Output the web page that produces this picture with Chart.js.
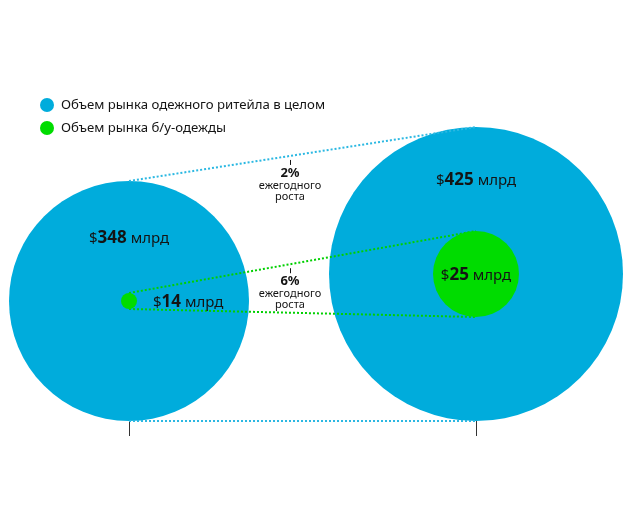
<!DOCTYPE html>
<html>
<head>
<meta charset="utf-8">
<script src="https://cdn.jsdelivr.net/npm/chart.js@4"></script>
<style>
  html, body { margin: 0; padding: 0; background: #fff; }
  #wrap { width: 630px; height: 517px; position: relative; }
</style>
</head>
<body>
<div id="wrap"><canvas id="chart"></canvas></div>
<script>
const seriesNames = ["Объем рынка одежного ритейла в целом", "Объем рынка б/у-одежды"];
const totalMarket = [348, 425];   // $ bn, whole apparel retail
const resaleMarket = [14, 25];    // $ bn, second-hand
const growthRates = [2, 6];       // % per year: total, resale
const unitLabel = "млрд";

// bubble sizes in px (the resale circles are not to scale)
const totalRadius = [120, 147];
const resaleRadius = [8, 43];

const blue = "#00ACDC";
const green = "#00DC00";
const blueDots = "#2BB8E2";
const greenDots = "#00D000";
const ink = "#141414";
const font = "'Noto Sans', sans-serif";

// bubbles sit on a common baseline: y value = radius in px
const totalPoints = totalMarket.map((v, i) => ({ x: i, y: totalRadius[i], r: totalRadius[i] }));
const resalePoints = resaleMarket.map((v, i) => ({ x: i, y: totalRadius[i], r: resaleRadius[i] }));

const dotted = (points, color) => ({
  type: "line",
  data: points,
  borderColor: color,
  borderWidth: 2,
  borderDash: [2, 2],
  pointRadius: 0,
  fill: false,
  tension: 0,
  order: 1,
  clip: false,
});

function drawAmount(ctx, value, x, y, align) {
  const parts = [
    ["$", "15px " + font],
    [String(value), "bold 17px " + font],
    [" " + unitLabel, "15px " + font],
  ];
  let width = 0;
  parts.forEach((p) => { ctx.font = p[1]; width += ctx.measureText(p[0]).width; });
  let cx = align === "center" ? x - width / 2 : x;
  ctx.textAlign = "left";
  ctx.textBaseline = "alphabetic";
  ctx.fillStyle = ink;
  parts.forEach((p) => {
    ctx.font = p[1];
    ctx.fillText(p[0], cx, y + 6);
    cx += ctx.measureText(p[0]).width;
  });
}

const labelsPlugin = {
  id: "labels",
  afterDatasetsDraw(chart) {
    const { ctx } = chart;
    const { x, y } = chart.scales;
    ctx.save();

    // legend
    [blue, green].forEach((color, i) => {
      const cy = 105 + i * 23;
      ctx.fillStyle = color;
      ctx.beginPath();
      ctx.arc(47, cy, 7, 0, Math.PI * 2);
      ctx.fill();
      ctx.fillStyle = ink;
      ctx.font = "13.2px " + font;
      ctx.textAlign = "left";
      ctx.textBaseline = "middle";
      ctx.fillText(seriesNames[i], 61, cy);
    });

    // amounts
    totalMarket.forEach((v, i) => {
      const top = y.getPixelForValue(2 * totalRadius[i]);
      const innerTop = y.getPixelForValue(totalRadius[i] + resaleRadius[i]);
      drawAmount(ctx, v, x.getPixelForValue(i), (top + innerTop) / 2, "center");
    });
    resaleMarket.forEach((v, i) => {
      const cx = x.getPixelForValue(i);
      const cy = y.getPixelForValue(totalRadius[i]);
      if (resaleRadius[i] > 30) drawAmount(ctx, v, cx, cy, "center");
      else drawAmount(ctx, v, cx + resaleRadius[i] + 16, cy, "left");
    });

    // growth notes under the upper connector lines
    const t = 0.464;
    const upper = [
      [2 * totalRadius[0], 2 * totalRadius[1]],
      [totalRadius[0] + resaleRadius[0], totalRadius[1] + resaleRadius[1]],
    ];
    upper.forEach((ends, i) => {
      const px = x.getPixelForValue(t);
      const ly = y.getPixelForValue(ends[0] + (ends[1] - ends[0]) * t);
      ctx.strokeStyle = ink;
      ctx.lineWidth = 1;
      ctx.beginPath();
      ctx.moveTo(Math.round(px) + 0.5, ly + 4);
      ctx.lineTo(Math.round(px) + 0.5, ly + 9);
      ctx.stroke();
      ctx.fillStyle = ink;
      ctx.textAlign = "center";
      ctx.textBaseline = "middle";
      ctx.font = "bold 13px " + font;
      ctx.fillText(growthRates[i] + "%", px, ly + 17);
      ctx.font = "11px " + font;
      ctx.fillText("ежегодного", px, ly + 30);
      ctx.fillText("роста", px, ly + 41);
    });

    ctx.restore();
  },
};

new Chart(document.getElementById("chart"), {
  type: "bubble",
  data: {
    datasets: [
      {
        label: seriesNames[0],
        data: totalPoints,
        backgroundColor: blue,
        borderWidth: 0,
        hoverRadius: 0,
        order: 2,
        clip: false,
      },
      dotted([{ x: 0, y: 2 * totalRadius[0] }, { x: 1, y: 2 * totalRadius[1] }], blueDots),
      dotted([{ x: 0, y: 0 }, { x: 1, y: 0 }], blueDots),
      dotted([{ x: 0, y: totalRadius[0] + resaleRadius[0] }, { x: 1, y: totalRadius[1] + resaleRadius[1] }], greenDots),
      dotted([{ x: 0, y: totalRadius[0] - resaleRadius[0] }, { x: 1, y: totalRadius[1] - resaleRadius[1] }], greenDots),
      {
        label: seriesNames[1],
        data: resalePoints,
        backgroundColor: green,
        borderWidth: 0,
        hoverRadius: 0,
        order: 0,
        clip: false,
      },
    ],
  },
  options: {
    responsive: true,
    maintainAspectRatio: false,
    animation: false,
    events: [],
    layout: { autoPadding: false, padding: { left: 0, right: 0, top: 0, bottom: 81 } },
    plugins: {
      legend: { display: false },
      tooltip: { enabled: false },
    },
    scales: {
      x: {
        type: "linear",
        min: -0.3718,
        max: 1.4438,
        afterBuildTicks: (scale) => { scale.ticks = [{ value: 0 }, { value: 1 }]; },
        ticks: { display: false },
        grid: { drawOnChartArea: false, drawTicks: true, tickLength: 15, color: "#333", lineWidth: 1 },
        border: { display: false },
      },
      y: {
        type: "linear",
        display: false,
        min: 0,
        max: 421,
      },
    },
  },
  plugins: [labelsPlugin],
});
</script>
</body>
</html>
